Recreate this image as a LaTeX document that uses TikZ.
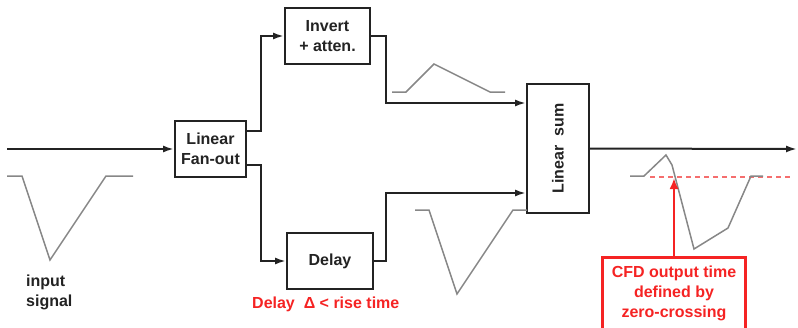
\documentclass[tikz,border=0pt]{standalone}
\usepackage{fontspec}
\setmainfont{Liberation Sans}
\usetikzlibrary{arrows.meta}
\definecolor{inkc}{RGB}{35,35,35}
\definecolor{wave}{RGB}{135,135,135}
\definecolor{cfdred}{RGB}{245,35,35}
\definecolor{dashred}{RGB}{245,110,110}
\begin{document}
\begin{tikzpicture}[x=1pt,y=-1pt,
  font=\fontsize{16}{20}\selectfont\bfseries,
  box/.style={draw=inkc, line width=2pt, inner sep=0pt, align=center, text=inkc},
  conn/.style={draw=inkc, line width=2pt, -{Latex[length=11pt,width=7pt]}},
  waveform/.style={draw=wave, line width=1.5pt, line join=miter},
  redbox/.style={draw=cfdred, line width=2.6pt, text=cfdred, align=center, inner xsep=4pt, inner ysep=9pt},
  redarrow/.style={draw=cfdred, line width=2.8pt, -{Latex[length=11pt,width=9pt]}},
  zeroline/.style={draw=dashred, line width=1.2pt, dash pattern=on 5pt off 4pt},
  lbl/.style={inner sep=0pt, text=inkc, align=left}
]
\useasboundingbox (0,0) rectangle (798,327);

% blocks
\node[box, minimum width=71pt, minimum height=56pt] (fan) at (210.5,149) {Linear\\Fan-out};
\node[box, minimum width=85pt, minimum height=56pt] (inv) at (327.5,36) {Invert\\+ atten.};
\node[box, minimum width=86pt, minimum height=56pt] (del) at (330,261) {Delay};
\node[box, minimum width=62pt, minimum height=129pt] (sum) at (558,148.5) {\rotatebox{90}{Linear\ \ sum}};

% free ends
\coordinate (in) at (7,149);
\coordinate (out) at (797,149);
\coordinate (zc) at (674,178);

% connectors
\draw[conn] (in) -- (fan.west);
\draw[conn] ([yshift=18pt]fan.east) -- ++(14,0) |- (inv.west);
\draw[conn] ([yshift=-16pt]fan.east) -- ++(14,0) |- (del.west);
\draw[conn] (inv.east) -- ++(15,0) |- ([yshift=45.5pt]sum.west);
\draw[conn] (del.east) -- ++(12,0) |- ([yshift=-44.5pt]sum.west);
\draw[conn] (sum.east) -- (out);

% waveforms
\draw[waveform] (7,176) -- (22,176) -- (50,260) -- (106,176) -- (133,176);
\draw[waveform] (392,92) -- (406,92) -- (434,64) -- (490,92) -- (505,92);
\draw[waveform] (415,210) -- (429,210) -- (457,294) -- (513,210) -- (527,210);
\draw[zeroline] (650,177) -- (790,177);
\draw[waveform] (630,176) -- (644,176) -- (666,155) -- (672,165) -- (694,249) -- (728,228) -- (751,176) -- (763,176);

% labels
\node[lbl, anchor=north west] (insig) at (26,275) {input\\signal};
\node[inner sep=0pt, text=cfdred, anchor=base west] (dlbl) at (252,308) {Delay\ \ Δ < rise time};

% CFD annotation
\node[redbox, anchor=north, minimum width=143pt] (cfd) at (674,256) {CFD output time\\defined by\\zero-crossing\\ \strut};
\draw[redarrow] (cfd.north) -- (zc);
\end{tikzpicture}
\end{document}
